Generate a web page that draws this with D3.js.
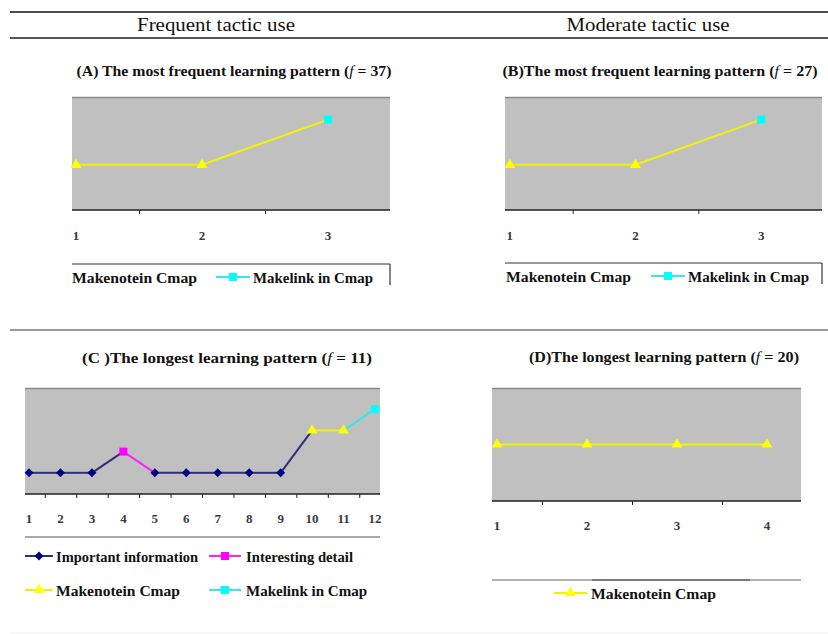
<!DOCTYPE html>
<html><head><meta charset="utf-8">
<script src="https://cdn.jsdelivr.net/npm/d3@7"></script>
<style>body{margin:0;background:#fff}svg{display:block}</style>
</head><body>
<svg id="c" width="828" height="634"></svg>
<script>
// ---------- data ----------
const columnHeaders = ["Frequent tactic use", "Moderate tactic use"];
const tacticNames = { info: "Important information", detail: "Interesting detail", note: "Makenotein Cmap", link: "Makelink in Cmap" };
const tacticColors = { info: "#000080", detail: "#ff00ff", note: "#ffff00", link: "#00ffff" };
const lineColors = { info: "#2e2e7c", detail: "#ff22ff", note: "#f2f200", link: "#33e8e8" };
const tacticSymbols = { info: "diamond", detail: "square", note: "triangle", link: "square" };

const titleA = ["(A) The most frequent learning pattern (", "f", " = 37)"];
const stepsA = [1, 2, 3];
const levelsA = [2, 2, 4];
const tacticsA = ["note", "note", "link"];
const segTacticsA = ["note", "note"];
const legendA = ["note", "link"];

const titleB = ["(B)The most frequent learning pattern (", "f", " = 27)"];
const stepsB = [1, 2, 3];
const levelsB = [2, 2, 4];
const tacticsB = ["note", "note", "link"];
const segTacticsB = ["note", "note"];
const legendB = ["note", "link"];

const titleC = ["(C )The longest learning pattern (", "f", " = 11)"];
const stepsC = [1, 2, 3, 4, 5, 6, 7, 8, 9, 10, 11, 12];
const levelsC = [1, 1, 1, 2, 1, 1, 1, 1, 1, 3, 3, 4];
const tacticsC = ["info", "info", "info", "detail", "info", "info", "info", "info", "info", "note", "note", "link"];
const segTacticsC = ["info", "info", "info", "detail", "info", "info", "info", "info", "info", "note", "link"];
const legendC = ["info", "detail", "note", "link"];

const titleD = ["(D)The longest learning pattern (", "f", " = 20)"];
const stepsD = [1, 2, 3, 4];
const levelsD = [2, 2, 2, 2];
const tacticsD = ["note", "note", "note", "note"];
const segTacticsD = ["note", "note", "note"];
const legendD = ["note"];

// ---------- layout ----------
const svg = d3.select("#c");
const serif = "'Liberation Serif','Times New Roman',serif";

// separators
svg.append("line").attr("x1", 10).attr("x2", 828).attr("y1", 12).attr("y2", 12).attr("stroke", "#111").attr("stroke-width", 1.5);
svg.append("line").attr("x1", 10).attr("x2", 828).attr("y1", 38).attr("y2", 38).attr("stroke", "#555").attr("stroke-width", 2);
svg.append("line").attr("x1", 10).attr("x2", 828).attr("y1", 330).attr("y2", 330).attr("stroke", "#999").attr("stroke-width", 2);
svg.append("line").attr("x1", 10).attr("x2", 828).attr("y1", 633).attr("y2", 633).attr("stroke", "#eee").attr("stroke-width", 1);

svg.selectAll("text.hdr").data(columnHeaders).join("text").attr("class", "hdr")
  .attr("x", (d, i) => i === 0 ? 216 : 648).attr("y", 31)
  .attr("text-anchor", "middle").attr("font-family", serif).attr("font-size", 19).attr("fill", "#111")
  .attr("textLength", (d, i) => i === 0 ? 158 : 163).attr("lengthAdjust", "spacingAndGlyphs")
  .text(d => d);

function symbolPath(t, size) {
  const s = tacticSymbols[t];
  if (s === "diamond") {
    const r = Math.sqrt(size) / 1.414;
    return `M0,${-r}L${r},0L0,${r}L${-r},0Z`;
  }
  const type = { square: d3.symbolSquare, triangle: d3.symbolTriangle }[s];
  return d3.symbol().type(type).size(size)();
}
function markSize(t) { return t === "note" ? 50 : t === "info" ? 40 : 64; }

function drawPanel(cfg) {
  const g = svg.append("g");
  const [px0, py0, px1, py1] = cfg.plot;
  const x = d3.scaleLinear().domain([0.5, cfg.steps.length + 0.5]).range(cfg.xRange);
  const y = d3.scaleLinear().domain(cfg.yDomain).range([py1, py0]);

  // title
  const t = g.append("text").attr("x", cfg.titlePos[0]).attr("y", cfg.titlePos[1]).attr("text-anchor", "middle")
    .attr("font-family", serif).attr("font-size", 15.5).attr("font-weight", "bold").attr("fill", "#111")
    .attr("textLength", cfg.titleLen).attr("lengthAdjust", "spacingAndGlyphs");
  t.append("tspan").text(cfg.title[0]);
  t.append("tspan").attr("font-style", "italic").attr("font-weight", "normal").text(cfg.title[1]);
  t.append("tspan").text(cfg.title[2]);

  // plot area
  g.append("rect").attr("x", px0).attr("y", py0).attr("width", px1 - px0).attr("height", py1 - py0).attr("fill", "#c0c0c0");
  g.append("line").attr("x1", px0).attr("x2", px1).attr("y1", py0 + 0.5).attr("y2", py0 + 0.5).attr("stroke", "#8a8a8a").attr("stroke-width", 1.5);

  // axis
  const tickVals = d3.range(1.5, cfg.steps.length + 0.5, 1).filter(v => x(v) <= px1 + 1.5);
  const axis = d3.axisBottom(x).tickValues(tickVals).tickSize(4).tickFormat("");
  const ag = g.append("g").attr("transform", `translate(0,${py1})`).call(axis);
  ag.select(".domain").remove();
  ag.selectAll(".tick line").attr("stroke", "#222");
  g.append("line").attr("x1", px0).attr("x2", px1).attr("y1", py1).attr("y2", py1).attr("stroke", "#222").attr("stroke-width", 1.5);

  g.selectAll("text.tl").data(cfg.steps).join("text").attr("class", "tl")
    .attr("x", d => x(d)).attr("y", cfg.labelY).attr("text-anchor", "middle")
    .attr("font-family", serif).attr("font-size", 13).attr("font-weight", "bold").attr("fill", "#3a3a3a")
    .text(d => d);

  // segments
  const segs = cfg.segTactics.map((tc, i) => ({ tc, a: i, b: i + 1 }));
  g.selectAll("line.seg").data(segs).join("line").attr("class", "seg")
    .attr("x1", d => x(cfg.steps[d.a])).attr("y1", d => y(cfg.levels[d.a]))
    .attr("x2", d => x(cfg.steps[d.b])).attr("y2", d => y(cfg.levels[d.b]))
    .attr("stroke", d => lineColors[d.tc]).attr("stroke-width", 2);

  // markers
  g.selectAll("path.mk").data(cfg.steps).join("path").attr("class", "mk")
    .attr("transform", (d, i) => `translate(${x(d)},${y(cfg.levels[i])})`)
    .attr("d", (d, i) => symbolPath(cfg.tactics[i], markSize(cfg.tactics[i])))
    .attr("fill", (d, i) => tacticColors[cfg.tactics[i]]);

  cfg.legendDraw(g);
}

function legendItem(g, tc, sx, sy, textX, textLen, showSym) {
  if (showSym) {
    g.append("line").attr("x1", sx[0]).attr("x2", sx[1]).attr("y1", sy).attr("y2", sy).attr("stroke", lineColors[tc]).attr("stroke-width", 2);
    g.append("path").attr("transform", `translate(${(sx[0] + sx[1]) / 2},${sy})`)
      .attr("d", symbolPath(tc, markSize(tc))).attr("fill", tacticColors[tc]);
  }
  g.append("text").attr("x", textX).attr("y", sy + 5.5).attr("font-family", serif).attr("font-size", 15.5)
    .attr("font-weight", "bold").attr("fill", "#111")
    .attr("textLength", textLen).attr("lengthAdjust", "spacingAndGlyphs").text(tacticNames[tc]);
}

drawPanel({
  title: titleA, titlePos: [234, 76], titleLen: 315,
  steps: stepsA, levels: levelsA, tactics: tacticsA, segTactics: segTacticsA,
  plot: [72, 97, 390, 210], xRange: [13, 391], yDomain: [0, 5], labelY: 240,
  legendDraw: g => {
    g.append("line").attr("x1", 72).attr("x2", 390).attr("y1", 264).attr("y2", 264).attr("stroke", "#333").attr("stroke-width", 1.2);
    g.append("line").attr("x1", 390).attr("x2", 390).attr("y1", 264).attr("y2", 285).attr("stroke", "#333").attr("stroke-width", 1.2);
    legendItem(g, legendA[0], null, 277, 72, 125, false);
    legendItem(g, legendA[1], [216, 250], 277, 253, 120, true);
  }
});

drawPanel({
  title: titleB, titlePos: [660, 76], titleLen: 315,
  steps: stepsB, levels: levelsB, tactics: tacticsB, segTactics: segTacticsB,
  plot: [505, 97, 822, 210], xRange: [447, 824], yDomain: [0, 5], labelY: 240,
  legendDraw: g => {
    g.append("line").attr("x1", 505).attr("x2", 822).attr("y1", 263).attr("y2", 263).attr("stroke", "#333").attr("stroke-width", 1.2);
    g.append("line").attr("x1", 822).attr("x2", 822).attr("y1", 263).attr("y2", 284).attr("stroke", "#333").attr("stroke-width", 1.2);
    legendItem(g, legendB[0], null, 276, 506, 125, false);
    legendItem(g, legendB[1], [651, 685], 276, 688, 121, true);
  }
});

drawPanel({
  title: titleC, titlePos: [227, 363], titleLen: 290,
  steps: stepsC, levels: levelsC, tactics: tacticsC, segTactics: segTacticsC,
  plot: [25, 388, 380, 494], xRange: [13.3, 390.7], yDomain: [0, 5], labelY: 523,
  legendDraw: g => {
    g.append("line").attr("x1", 25).attr("x2", 380).attr("y1", 537).attr("y2", 537).attr("stroke", "#aaa").attr("stroke-width", 2);
    legendItem(g, legendC[0], [25, 53], 556, 56, 142, true);
    legendItem(g, legendC[1], [209, 241], 556, 246, 107, true);
    legendItem(g, legendC[2], [25, 53], 590, 56, 124, true);
    legendItem(g, legendC[3], [209, 241], 590, 246, 121, true);
  }
});

drawPanel({
  title: titleD, titlePos: [664, 362], titleLen: 270,
  steps: stepsD, levels: levelsD, tactics: tacticsD, segTactics: segTacticsD,
  plot: [492, 388, 801, 501], xRange: [452, 812], yDomain: [0, 4], labelY: 530,
  legendDraw: g => {
    g.append("line").attr("x1", 492).attr("x2", 801).attr("y1", 580).attr("y2", 580).attr("stroke", "#999").attr("stroke-width", 1.5);
    g.append("line").attr("x1", 592).attr("x2", 750).attr("y1", 580).attr("y2", 580).attr("stroke", "#666").attr("stroke-width", 1.5);
    legendItem(g, legendD[0], [554, 587], 593, 591, 125, true);
  }
});
</script>
</body></html>
